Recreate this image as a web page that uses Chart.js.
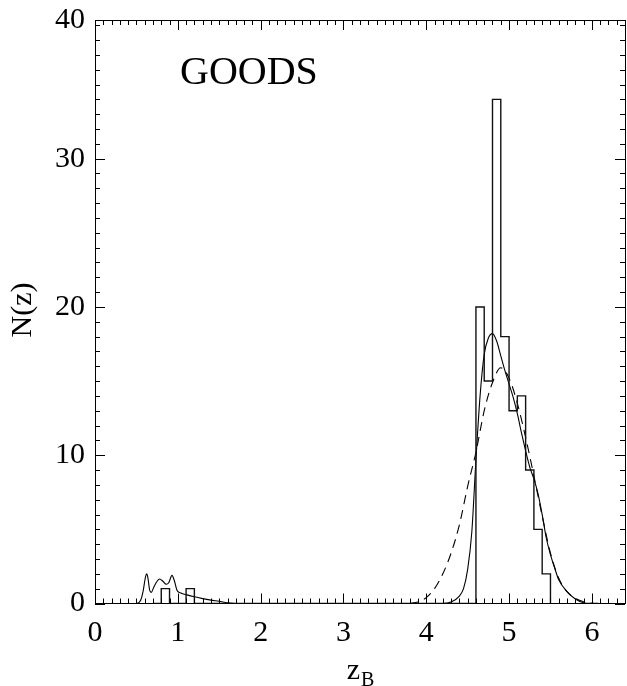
<!DOCTYPE html>
<html><head><meta charset="utf-8">
<script src="https://cdn.jsdelivr.net/npm/chart.js@4"></script>
<style>html,body{margin:0;padding:0;background:#fff}canvas{display:block}</style>
</head><body>
<canvas id="c" width="627" height="686"></canvas>
<script>
// ---- data ----
const binLeft  = [0.7, 0.8, 0.9, 1.0, 1.1, 1.2, 4.5, 4.6, 4.7, 4.8, 4.9, 5.0, 5.1, 5.2, 5.3, 5.4, 5.5];
const binCount = [0,   1,   0,   0,   1,   0,   0,   20,  15,  34,  18,  13,  14,  9,   5,   2,   0];

const solidZ = [0.40,0.50,0.55,0.58,0.61,0.625,0.64,0.66,0.68,0.71,0.75,0.78,0.82,0.86,0.89,0.93,0.96,0.99,1.03,1.10,1.20,1.30,1.40,1.50,1.60,1.70,
                4.20,4.30,4.40,4.45,4.50,4.55,4.60,4.65,4.70,4.75,4.80,4.85,4.90,4.95,5.00,5.05,5.10,5.15,5.20,5.25,5.30,5.35,5.40,5.45,5.50,5.55,5.60,5.70,5.80,5.90,6.00];
const solidN = [0,   0,   0.2, 0.8, 1.8, 2.0,  1.7, 0.9, 0.75,1.1, 1.5, 1.65,1.5, 1.3, 1.4, 1.9, 1.5, 0.9, 0.72,0.6, 0.45,0.33,0.23,0.15,0.05,0,
                0,   0.1, 0.5, 1.0, 2.3, 4.8, 9.7, 14.0,16.8,17.9,18.2,17.7,16.7,15.7,14.8,13.9,12.8,11.5,10.3,9.2, 8.4, 7.4, 6.0, 4.4, 3.3, 2.4, 1.6, 0.8, 0.3, 0.05,0];

const dashZ = [3.80,3.90,4.00,4.10,4.20,4.30,4.40,4.50,4.60,4.70,4.80,4.90,5.00,5.10,5.20,5.30,5.40,5.50,5.60,5.70,5.80,5.90,6.00,6.10];
const dashN = [0,   0.1, 0.4, 1.0, 2.0, 3.4, 5.3, 7.9, 10.2,13.0,14.9,15.9,15.2,13.5,11.2,8.6, 5.9, 3.4, 1.7, 0.8, 0.35,0.12,0.03,0];

const xTicks = [0, 1, 2, 3, 4, 5, 6];
const yTicks = [0, 10, 20, 30];
const yTopLabel = "40";          // label printed at the top edge of the frame, as in the reference
const xRange = [0, 6.4];
const yRange = [0, 39.35];
const panelLabel = "GOODS";
const yTitle = "N(z)";
const xTitleMain = "z", xTitleSub = "B";

// ---- build datasets ----
const histPts = binLeft.map((z, i) => ({x: z, y: binCount[i]}));
const solidPts = solidZ.map((z, i) => ({x: z, y: solidN[i]}));
const dashPts = dashZ.map((z, i) => ({x: z, y: dashN[i]}));

const SERIF = "'Liberation Serif','Times New Roman',serif";

const frameTicks = {
  id: 'frameTicks',
  afterDatasetsDraw(chart) {
    const ctx = chart.ctx, a = chart.chartArea;
    const xs = chart.scales.x, ys = chart.scales.y;
    ctx.save();
    ctx.strokeStyle = '#000';
    ctx.lineWidth = 1;
    ctx.beginPath();
    for (let i = 0; i <= Math.round(xRange[1] * 10); i++) {
      const v = i / 10;
      const px = Math.round(xs.getPixelForValue(v)) + 0.5;
      const len = (i % 10 === 0) ? 10 : 5;
      ctx.moveTo(px, a.bottom); ctx.lineTo(px, a.bottom - len);
      ctx.moveTo(px, a.top); ctx.lineTo(px, a.top + len);
    }
    for (let i = 0; i <= Math.floor(yRange[1]); i++) {
      const py = Math.round(ys.getPixelForValue(i)) + 0.5;
      const len = (i % 10 === 0) ? 10 : 5;
      ctx.moveTo(a.left, py); ctx.lineTo(a.left + len, py);
      ctx.moveTo(a.right, py); ctx.lineTo(a.right - len, py);
    }
    ctx.stroke();

    ctx.fillStyle = '#000';
    ctx.font = '40px ' + SERIF;
    ctx.textAlign = 'left';
    ctx.textBaseline = 'alphabetic';
    ctx.fillText(panelLabel, 180, 84);

    ctx.save();
    ctx.translate(23, 310);
    ctx.rotate(-Math.PI / 2);
    ctx.font = '30px ' + SERIF;
    ctx.textAlign = 'center';
    ctx.textBaseline = 'middle';
    ctx.fillText(yTitle, 0, 0);
    ctx.restore();

    ctx.font = '30px ' + SERIF;
    const wz = ctx.measureText(xTitleMain).width;
    ctx.font = '20px ' + SERIF;
    const wb = ctx.measureText(xTitleSub).width;
    const cx = (a.left + a.right) / 2;
    const x0 = cx - (wz + wb) / 2;
    ctx.textAlign = 'left';
    ctx.textBaseline = 'alphabetic';
    ctx.font = '30px ' + SERIF;
    ctx.fillText(xTitleMain, x0, 679);
    ctx.font = '20px ' + SERIF;
    ctx.fillText(xTitleSub, x0 + wz + 1, 686);
    ctx.restore();
  }
};

function noPad(s) { s.paddingTop = 0; s.paddingBottom = 0; s.paddingLeft = 0; s.paddingRight = 0; }

new Chart(document.getElementById('c'), {
  type: 'line',
  data: {
    datasets: [
      {data: histPts, stepped: 'before', borderColor: '#111', borderWidth: 1.4, pointRadius: 0, fill: false},
      {data: solidPts, borderColor: '#000', borderWidth: 1.1, pointRadius: 0, cubicInterpolationMode: 'monotone', fill: false},
      {data: dashPts, borderColor: '#000', borderWidth: 1.1, borderDash: [9, 6], pointRadius: 0, cubicInterpolationMode: 'monotone', fill: false}
    ]
  },
  options: {
    responsive: false,
    animation: false,
    devicePixelRatio: 1,
    layout: {padding: 0},
    plugins: {legend: {display: false}, tooltip: {enabled: false}},
    scales: {
      x: {
        type: 'linear', position: 'bottom', min: xRange[0], max: xRange[1],
        afterBuildTicks: s => { s.ticks = xTicks.map(v => ({value: v})); },
        afterFit: s => { s.height = 82.5; noPad(s); },
        grid: {display: false, drawTicks: false},
        border: {display: true, color: '#000', width: 1},
        ticks: {color: '#000', padding: 12, font: {family: SERIF, size: 30}, callback: v => String(v), maxRotation: 0}
      },
      x2: {
        type: 'linear', position: 'top', min: xRange[0], max: xRange[1],
        afterFit: s => { s.height = 20; noPad(s); },
        grid: {display: false, drawTicks: false},
        border: {display: true, color: '#000', width: 1},
        ticks: {display: false}
      },
      y: {
        type: 'linear', position: 'left', min: yRange[0], max: yRange[1],
        afterBuildTicks: s => { s.ticks = yTicks.map(v => ({value: v})).concat([{value: yRange[1]}]); },
        afterFit: s => { s.width = 95; noPad(s); },
        grid: {display: false, drawTicks: false},
        border: {display: true, color: '#000', width: 1},
        ticks: {color: '#000', padding: 10, font: {family: SERIF, size: 30},
                callback: v => (v === yRange[1] ? yTopLabel : String(v))}
      },
      y2: {
        type: 'linear', position: 'right', min: yRange[0], max: yRange[1],
        afterFit: s => { s.width = 2; noPad(s); },
        grid: {display: false, drawTicks: false},
        border: {display: true, color: '#000', width: 1},
        ticks: {display: false}
      }
    }
  },
  plugins: [frameTicks]
});
</script>
</body></html>
